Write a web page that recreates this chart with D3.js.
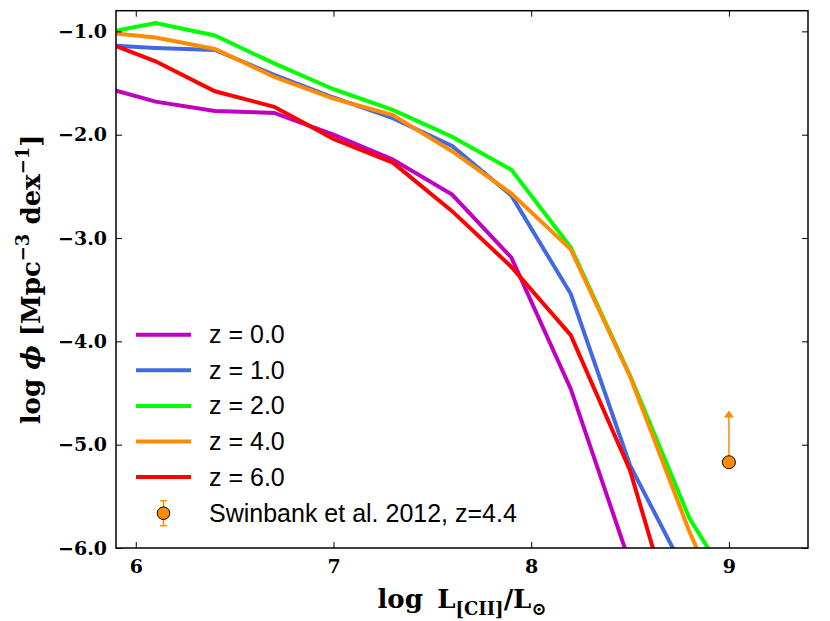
<!DOCTYPE html>
<html>
<head>
<meta charset="UTF-8">
<title>[CII] luminosity function</title>
<script src="https://d3js.org/d3.v7.min.js"></script>
<style>
  body { margin: 0; background: #fff; }
  .tick text { font-family: "DejaVu Serif", serif; font-weight: bold; font-size: 19px; }
</style>
</head>
<body>
<script>
// log L bins and log phi for each redshift
var logL = [5.8, 6.1, 6.4, 6.7, 7.0, 7.3, 7.6, 7.9, 8.2, 8.5, 8.8, 9.1];
var labels = ["z = 0.0", "z = 1.0", "z = 2.0", "z = 4.0", "z = 6.0"];
var colours = ["#bf00bf", "#4169e1", "#00ff00", "#ff8c00", "#ff0000"];
var phiZ0 = [-1.52, -1.68, -1.77, -1.79, -2.00, -2.24, -2.58, -3.19, -4.46, -6.15];
var phiZ1 = [-1.13, -1.16, -1.18, -1.42, -1.64, -1.84, -2.11, -2.59, -3.54, -5.20, -6.31];
var phiZ2 = [-1.03, -0.92, -1.04, -1.31, -1.56, -1.76, -2.02, -2.34, -3.09, -4.33, -5.71, -6.64];
var phiZ4 = [-1.00, -1.06, -1.17, -1.44, -1.65, -1.81, -2.16, -2.57, -3.11, -4.34, -5.84, -7.16];
var phiZ6 = [-1.07, -1.29, -1.58, -1.73, -2.04, -2.27, -2.74, -3.28, -3.94, -5.25, -7.20];
var series = [phiZ0, phiZ1, phiZ2, phiZ4, phiZ6];

// Swinbank et al. 2012 lower limit
var obsX = [9.0];
var obsY = [-5.17];
var obsLimit = [-4.67];
var obsLabel = "Swinbank et al. 2012, z=4.4";

var xTicks = [6, 7, 8, 9];
var yTicks = [-1, -2, -3, -4, -5, -6];

var W = 830, H = 621;
var margin = {top: 10.7, right: 22, bottom: 73, left: 116},
    width = W - margin.left - margin.right,
    height = H - margin.top - margin.bottom;

var svg = d3.select("body").append("svg")
    .attr("width", W)
    .attr("height", H);
var g = svg.append("g")
    .attr("transform", "translate(" + margin.left + "," + margin.top + ")");

var x = d3.scaleLinear().domain([5.9, 9.4]).range([0, width]);
var y = d3.scaleLinear().domain([-6.0, -0.8]).range([height, 0]);

g.append("clipPath").attr("id", "clip")
  .append("rect").attr("width", width).attr("height", height);

var line = d3.line()
    .x(function(d, i) { return x(logL[i]); })
    .y(function(d) { return y(d); });

var plot = g.append("g").attr("clip-path", "url(#clip)");
series.forEach(function(s, i) {
  plot.append("path")
      .attr("d", line(s))
      .attr("fill", "none")
      .attr("stroke", colours[i])
      .attr("stroke-width", 4)
      .attr("stroke-linejoin", "miter");
});

// observation with upward arrow
var obsCol = "#ff8c00";
obsX.forEach(function(v, i) {
  var cx = x(v), cy = y(obsY[i]), ty = y(obsLimit[i]);
  plot.append("line")
      .attr("x1", cx).attr("x2", cx)
      .attr("y1", cy).attr("y2", ty + 6)
      .attr("stroke", obsCol).attr("stroke-width", 1.5);
  plot.append("path")
      .attr("d", "M" + (cx - 5) + "," + (ty + 7) + "L" + cx + "," + ty + "L" + (cx + 5) + "," + (ty + 7) + "Z")
      .attr("fill", obsCol);
  plot.append("circle")
      .attr("cx", cx).attr("cy", cy).attr("r", 6.5)
      .attr("fill", obsCol).attr("stroke", "#000").attr("stroke-width", 1);
});

// axes, ticks pointing inward
var fmt = d3.format(".1f");
g.append("g")
    .attr("transform", "translate(0," + height + ")")
    .call(d3.axisBottom(x).tickValues(xTicks).tickFormat(d3.format("d")).tickSize(-6).tickSizeOuter(0).tickPadding(11.5));
g.append("g")
    .call(d3.axisTop(x).tickValues(xTicks).tickFormat("").tickSize(-6).tickSizeOuter(0));
g.append("g")
    .call(d3.axisLeft(y).tickValues(yTicks).tickFormat(fmt).tickSize(-6).tickSizeOuter(0).tickPadding(9));
g.append("g")
    .attr("transform", "translate(" + width + ",0)")
    .call(d3.axisRight(y).tickValues(yTicks).tickFormat("").tickSize(-6).tickSizeOuter(0));
g.selectAll(".domain").remove();
g.selectAll(".tick line").attr("stroke", "#000").attr("stroke-width", 1);

g.append("rect")
    .attr("width", width).attr("height", height)
    .attr("fill", "none").attr("stroke", "#000").attr("stroke-width", 1.5);

// axis labels
var xl = svg.append("text")
    .attr("x", margin.left + width / 2)
    .attr("y", 608)
    .attr("text-anchor", "middle")
    .style("font-family", "DejaVu Serif, serif")
    .style("font-weight", "bold")
    .style("font-size", "26px");
xl.append("tspan").text("log\u2009 L");
xl.append("tspan").attr("dy", 7).style("font-size", "18px").text("[CII]");
xl.append("tspan").attr("dy", -7).text("/L");
xl.append("tspan").attr("dy", 7).style("font-size", "18px").text("\u2299");

var yl = svg.append("text")
    .attr("transform", "translate(40," + (margin.top + height / 2) + ") rotate(-90)")
    .attr("text-anchor", "middle")
    .style("font-family", "DejaVu Serif, serif")
    .style("font-weight", "bold")
    .style("font-size", "26px");
yl.append("tspan").text("log ");
yl.append("tspan").style("font-style", "italic").text("\u03d5");
yl.append("tspan").text(" [Mpc");
yl.append("tspan").attr("dy", -11).style("font-size", "18px").text("\u22123");
yl.append("tspan").attr("dy", 11).text(" dex");
yl.append("tspan").attr("dy", -11).style("font-size", "18px").text("\u22121");
yl.append("tspan").attr("dy", 11).text("]");

// legend
var legend = svg.append("g").attr("transform", "translate(136,334.7)");
var rowH = 35.6;
labels.forEach(function(lab, i) {
  var row = legend.append("g").attr("transform", "translate(0," + (i * rowH) + ")");
  row.append("line")
      .attr("x1", 0).attr("x2", 55)
      .attr("stroke", colours[i]).attr("stroke-width", 4);
  row.append("text")
      .attr("x", 73).attr("y", 8.5)
      .style("font-family", "Liberation Sans, Arial, sans-serif")
      .style("font-size", "25px")
      .text(lab);
});
var obsRow = legend.append("g").attr("transform", "translate(0," + (labels.length * rowH + 0.5) + ")");
obsRow.append("line").attr("x1", 27.5).attr("x2", 27.5).attr("y1", -12.5).attr("y2", 12.5)
    .attr("stroke", obsCol).attr("stroke-width", 1.5);
obsRow.append("line").attr("x1", 24).attr("x2", 31).attr("y1", -12.5).attr("y2", -12.5)
    .attr("stroke", obsCol).attr("stroke-width", 1.5);
obsRow.append("line").attr("x1", 24).attr("x2", 31).attr("y1", 12.5).attr("y2", 12.5)
    .attr("stroke", obsCol).attr("stroke-width", 1.5);
obsRow.append("circle").attr("cx", 27.5).attr("cy", 0).attr("r", 6.3)
    .attr("fill", obsCol).attr("stroke", "#000").attr("stroke-width", 1);
obsRow.append("text")
    .attr("x", 73).attr("y", 8.5)
    .style("font-family", "Liberation Sans, Arial, sans-serif")
    .style("font-size", "25px")
    .text(obsLabel);
</script>
</body>
</html>
